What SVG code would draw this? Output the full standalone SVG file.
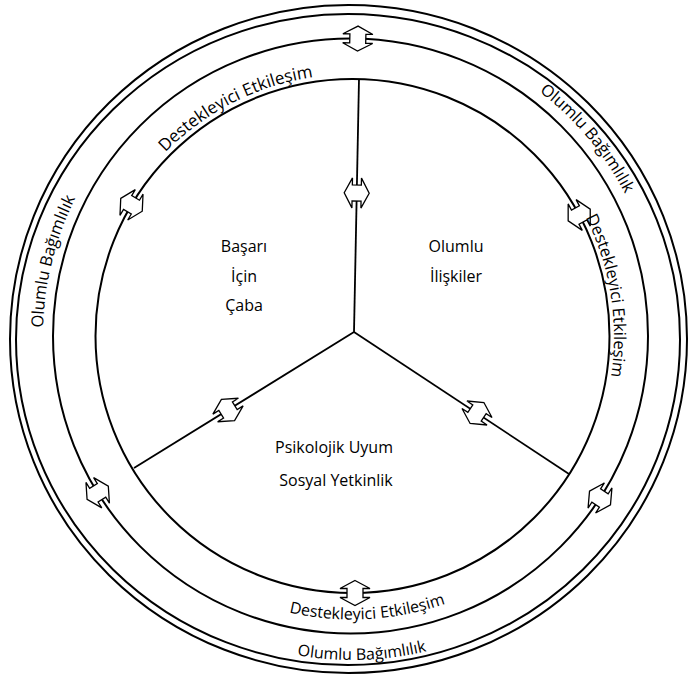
<svg xmlns="http://www.w3.org/2000/svg" xmlns:xlink="http://www.w3.org/1999/xlink" width="692" height="676" viewBox="0 0 692 676">
<style>
.ring{fill:none;stroke:#000;stroke-width:2}
.spoke{fill:none;stroke:#000;stroke-width:1.8}
.arr{fill:#fff;stroke:#000;stroke-width:1.3;stroke-linejoin:miter}
.t{font-family:"Open Sans","Noto Sans","Liberation Sans",sans-serif;font-size:16px;fill:#000}
.c{text-anchor:middle}
</style>
<defs>
<path id="arrow" d="M0,-12.5 L15,-4.5 L8,-4.5 L8,4.5 L15,4.5 L0,12.5 L-15,4.5 L-8,4.5 L-8,-4.5 L-15,-4.5 Z"/>
<path id="p1" d="M90.4,322.3 A262,262 0 0 1 494.7,116.3"/>
<path id="p2" d="M445.9,91.4 A262,262 0 0 1 516.9,539.6"/>
<path id="p3" d="M114.8,491.2 A283.5,283.5 0 0 0 605.1,463.8"/>
<path id="p4" d="M298.5,32.7 A308,308 0 0 1 641.4,441.3"/>
<path id="p5" d="M137.3,558.3 A309,309 0 0 1 266.8,39"/>
<path id="p6" d="M76.6,506.7 A324,324 0 0 0 637.5,489.1"/>
</defs>
<rect width="692" height="676" fill="#fff"/>
<g id="connectors">
<ellipse class="ring" cx="348.5" cy="339" rx="338.5" ry="334"/>
<ellipse class="ring" cx="348" cy="339.5" rx="332" ry="325.5"/>
<circle class="ring" cx="350.5" cy="336" r="297.5"/>
<circle class="ring" cx="352.5" cy="336" r="257"/>
<line class="spoke" x1="354" y1="332" x2="359" y2="79"/>
<line class="spoke" x1="354" y1="332" x2="134" y2="468"/>
<line class="spoke" x1="354" y1="332" x2="569" y2="474"/>
<use href="#arrow" class="arr" transform="translate(357.8,38.6) rotate(1.4)"/>
<use href="#arrow" class="arr" transform="translate(356.7,193) rotate(-88.9)"/>
<use href="#arrow" class="arr" transform="translate(131.5,204.8) rotate(-59.3)"/>
<use href="#arrow" class="arr" transform="translate(579.2,215) rotate(61.9)"/>
<use href="#arrow" class="arr" transform="translate(228,410) rotate(-31.8)"/>
<use href="#arrow" class="arr" transform="translate(477,413) rotate(33.4)"/>
<use href="#arrow" class="arr" transform="translate(97.7,492.8) rotate(58.2)"/>
<use href="#arrow" class="arr" transform="translate(600,498) rotate(-57)"/>
<use href="#arrow" class="arr" transform="translate(355,593) rotate(0)"/>
</g>
<g id="ring-labels">
<text class="t" style="font-size:17px"><textPath href="#p1" startOffset="50%" text-anchor="middle">Destekleyici Etkileşim</textPath></text>
<text class="t" style="font-size:16.5px"><textPath href="#p2" startOffset="50%" text-anchor="middle">Destekleyici Etkileşim</textPath></text>
<text class="t"><textPath href="#p3" startOffset="50%" text-anchor="middle">Destekleyici Etkileşim</textPath></text>
<text class="t" style="font-size:16.5px"><textPath href="#p4" startOffset="50%" text-anchor="middle">Olumlu Bağımlılık</textPath></text>
<text class="t" style="font-size:16.5px"><textPath href="#p5" startOffset="50%" text-anchor="middle">Olumlu Bağımlılık</textPath></text>
<text class="t"><textPath href="#p6" startOffset="50%" text-anchor="middle">Olumlu Bağımlılık</textPath></text>
</g>
<g id="node-basari">
<text class="t c" x="244" y="252">Başarı</text>
<text class="t c" x="244" y="282">İçin</text>
<text class="t c" x="244" y="311">Çaba</text>
</g>
<g id="node-iliskiler">
<text class="t c" x="456" y="252">Olumlu</text>
<text class="t c" x="456" y="282">İlişkiler</text>
</g>
<g id="node-uyum">
<text class="t c" x="334" y="453">Psikolojik Uyum</text>
<text class="t c" x="336" y="486">Sosyal Yetkinlik</text>
</g>
</svg>
